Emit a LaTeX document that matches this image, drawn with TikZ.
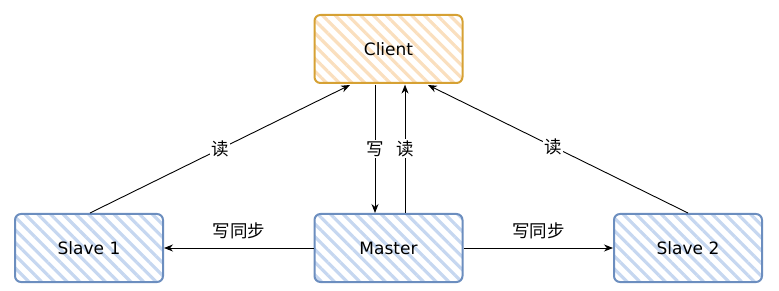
\documentclass[tikz,border=0pt]{standalone}
\usepackage{fontspec}
\setmainfont{DejaVu Sans}
\newfontfamily\cjk{Noto Sans CJK SC}
\usetikzlibrary{patterns.meta,arrows.meta}
\definecolor{bluebd}{HTML}{6C8EBF}
\definecolor{bluehatch}{HTML}{C6D7F0}
\definecolor{orangebd}{HTML}{D6A134}
\definecolor{orangehatch}{HTML}{FADFBE}
\tikzset{
  box/.style={draw=bluebd, line width=2pt, rounded corners=6pt, minimum width=148pt, minimum height=68pt,
    pattern={Lines[angle=-45,distance=9pt,line width=3.2pt]}, pattern color=bluehatch,
    font=\fontsize{17}{20}\selectfont},
  obox/.style={box, draw=orangebd, pattern color=orangehatch},
  conn/.style={line width=0.9pt, -{Stealth[length=9pt,width=7pt]}},
  lab/.style={fill=white, inner sep=1.5pt, font=\cjk\fontsize{17.5}{20}\selectfont},
}
\begin{document}
\begin{tikzpicture}[x=1pt,y=-1pt]
\useasboundingbox (0,0) rectangle (779,291);
\node[obox] (client) at (388.5,49) {Client};
\node[box] (slave1) at (89,248) {Slave 1};
\node[box] (master) at (388.5,248) {Master};
\node[box] (slave2) at (688,248) {Slave 2};
\coordinate (s1t) at (90,213);
\coordinate (c1) at (350,85);
\coordinate (s2t) at (688,213);
\coordinate (c2) at (428,85);
\draw[conn] (s1t) -- node[lab, pos=0.5] {读} (c1);
\draw[conn] (s2t) -- node[lab, pos=0.52] {读} (c2);
\draw[conn] (client.south -| 375,0) -- node[lab, pos=0.5] {写} (master.north -| 375,0);
\draw[conn] (master.north -| 405,0) -- node[lab, pos=0.5] {读} (client.south -| 405,0);
\draw[conn] (master.west) -- node[lab, above=7pt, fill=none] {写同步} (slave1.east);
\draw[conn] (master.east) -- node[lab, above=7pt, fill=none] {写同步} (slave2.west);
\end{tikzpicture}
\end{document}
